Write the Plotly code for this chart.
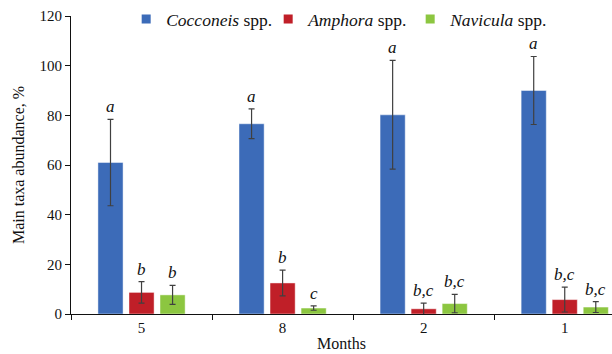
import plotly.graph_objects as go

months = ["5", "8", "2", "1"]
series_names = ["<i>Cocconeis</i> spp.", "<i>Amphora</i> spp.", "<i>Navicula</i> spp."]
cocconeis = [61.0, 76.6, 80.2, 90.0]
cocconeis_err = [17.4, 6.0, 21.9, 13.7]
amphora = [8.7, 12.5, 2.1, 5.8]
amphora_err = [4.3, 5.2, 2.3, 5.0]
navicula = [7.7, 2.4, 4.2, 2.8]
navicula_err = [3.8, 0.9, 3.7, 2.2]
letters_cocconeis = ["a", "a", "a", "a"]
letters_amphora = ["b", "b", "b,c", "b,c"]
letters_navicula = ["b", "c", "b,c", "b,c"]
colors = ["#3C6BB8", "#C01F28", "#8CC640"]

values = [cocconeis, amphora, navicula]
errors = [cocconeis_err, amphora_err, navicula_err]
letters = [letters_cocconeis, letters_amphora, letters_navicula]

FONT = "Liberation Serif, Times New Roman, serif"
fig = go.Figure()
for name, v, e, c in zip(series_names, values, errors, colors):
    fig.add_trace(go.Bar(
        x=months, y=v, name=name, showlegend=False,
        marker=dict(color=c, line=dict(color="rgba(255,255,255,0.45)", width=1)),
        error_y=dict(type="data", array=e, visible=True, color="#404040", thickness=1.2, width=3),
    ))
# legend entries with small square swatches
for name, c in zip(series_names, colors):
    fig.add_trace(go.Scatter(x=[None], y=[None], mode="markers", name=name,
                             marker=dict(symbol="square", size=9, color=c)))

shifts = [-31, 0, 31]
for s, v, e, lab in zip(shifts, values, errors, letters):
    for i, (vi, ei, li) in enumerate(zip(v, e, lab)):
        fig.add_annotation(x=i, y=vi + ei, text="<i>%s</i>" % li, showarrow=False,
                           xshift=s, yanchor="bottom", yshift=1,
                           font=dict(family=FONT, size=17, color="#111111"))

fig.update_layout(
    width=612, height=354,
    margin=dict(l=71, r=0, t=16, b=40),
    paper_bgcolor="white", plot_bgcolor="white",
    barmode="group", bargap=0.34, bargroupgap=0.19,
    font=dict(family=FONT, size=15, color="#111111"),
    showlegend=True,
    legend=dict(orientation="h", x=0.102, y=1.05, xanchor="left", yanchor="top",
                font=dict(family=FONT, size=17.5), itemwidth=30, traceorder="normal",
                entrywidth=97, entrywidthmode="pixels",
                bgcolor="rgba(0,0,0,0)"),
    xaxis=dict(type="category", range=[-0.5, 3.335], showline=True, linecolor="#111111", linewidth=1,
               ticks="outside", tickson="boundaries", ticklen=5, tickcolor="#111111",
               title=dict(text="Months", font=dict(family=FONT, size=16), standoff=2),
               showgrid=False, zeroline=False),
    yaxis=dict(range=[0, 120], dtick=20, showline=True, linecolor="#111111", linewidth=1,
               ticks="outside", ticklen=5, tickcolor="#111111", showgrid=False, zeroline=False,
               title=dict(text="Main taxa abundance, %", font=dict(family=FONT, size=16), standoff=10)),
)
fig.write_html("out.html")
